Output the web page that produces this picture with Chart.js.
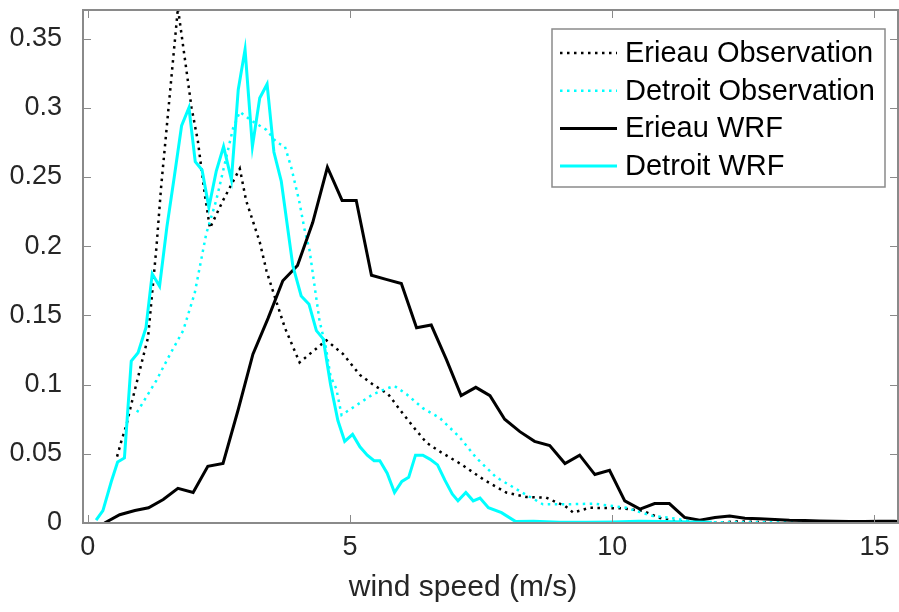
<!DOCTYPE html>
<html>
<head>
<meta charset="utf-8">
<script src="https://cdn.jsdelivr.net/npm/chart.js@4.4.0/dist/chart.umd.min.js"></script>
<style>
  html, body { margin: 0; padding: 0; background: #fff; }
  #wrap { width: 899px; height: 612px; }
</style>
</head>
<body>
<div id="wrap"><canvas id="windChart" width="899" height="612"></canvas></div>
<script>
// Erieau observation (dotted black)
const erieauObsX = [0.56, 0.64, 0.74, 0.80, 0.99, 1.15, 1.31, 1.40, 1.72, 1.98, 2.10, 2.23, 2.33, 2.58, 2.90, 3.02, 3.28, 3.41, 3.57, 3.76, 4.04, 4.23, 4.55, 4.87, 5.19, 5.44, 5.73, 6.01, 6.24, 6.46, 6.74, 7.12, 7.54, 7.98, 8.36, 8.74, 9.10, 9.26, 9.57, 10.20, 10.59, 10.90, 11.16, 12.05, 12.30, 12.60, 13.00];
const erieauObsY = [0.048, 0.059, 0.071, 0.081, 0.110, 0.134, 0.199, 0.243, 0.372, 0.300, 0.276, 0.238, 0.213, 0.233, 0.256, 0.233, 0.203, 0.182, 0.163, 0.141, 0.116, 0.122, 0.132, 0.122, 0.107, 0.100, 0.093, 0.079, 0.068, 0.058, 0.051, 0.0425, 0.0316, 0.022, 0.0188, 0.0183, 0.0123, 0.0075, 0.011, 0.0106, 0.0087, 0.0038, 0.0015, 0.0, 0.001, 0.001, 0.0003];

// Detroit observation (dotted cyan)
const detroitObsX = [0.94, 1.31, 1.46, 1.60, 1.82, 2.04, 2.26, 2.45, 2.77, 2.90, 3.15, 3.41, 3.60, 3.76, 3.88, 4.03, 4.14, 4.23, 4.33, 4.42, 4.54, 4.63, 4.74, 4.84, 5.12, 5.44, 5.69, 5.85, 6.08, 6.39, 6.71, 7.09, 7.41, 7.79, 8.24, 8.68, 9.13, 9.64, 10.27, 10.46, 10.78, 11.10, 11.60, 12.50, 13.50, 14.50, 15.00];
const detroitObsY = [0.080, 0.103, 0.114, 0.124, 0.139, 0.166, 0.209, 0.233, 0.285, 0.297, 0.290, 0.284, 0.275, 0.272, 0.257, 0.233, 0.211, 0.197, 0.170, 0.146, 0.127, 0.106, 0.097, 0.078, 0.085, 0.093, 0.097, 0.099, 0.093, 0.083, 0.076, 0.062, 0.047, 0.033, 0.023, 0.0135, 0.0135, 0.014, 0.011, 0.0087, 0.005, 0.0038, 0.0005, 0.0005, 0.0005, 0.0005, 0.0003];

// Erieau WRF (solid black)
const erieauWrfX = [0.32, 0.61, 0.90, 1.16, 1.44, 1.72, 2.01, 2.29, 2.58, 2.87, 3.15, 3.44, 3.72, 4.00, 4.29, 4.57, 4.85, 5.12, 5.41, 5.69, 5.98, 6.27, 6.55, 6.84, 7.12, 7.40, 7.67, 7.95, 8.24, 8.52, 8.81, 9.10, 9.38, 9.67, 9.95, 10.24, 10.53, 10.81, 11.09, 11.38, 11.67, 11.96, 12.24, 12.53, 12.81, 13.10, 13.38, 13.67, 13.95, 14.24, 14.52, 14.81, 15.09, 15.38, 15.66];
const erieauWrfY = [0.000, 0.006, 0.009, 0.011, 0.017, 0.025, 0.022, 0.041, 0.043, 0.082, 0.122, 0.148, 0.175, 0.186, 0.217, 0.257, 0.233, 0.233, 0.179, 0.176, 0.173, 0.141, 0.143, 0.118, 0.092, 0.098, 0.092, 0.075, 0.066, 0.059, 0.056, 0.043, 0.049, 0.035, 0.038, 0.016, 0.010, 0.014, 0.014, 0.004, 0.002, 0.004, 0.005, 0.0035, 0.003, 0.0025, 0.002, 0.0018, 0.0015, 0.0013, 0.001, 0.001, 0.0012, 0.0012, 0.001];

// Detroit WRF (solid cyan)
const detroitWrfX = [0.16, 0.29, 0.45, 0.57, 0.70, 0.83, 0.96, 1.11, 1.23, 1.37, 1.51, 1.65, 1.79, 1.93, 2.05, 2.18, 2.31, 2.45, 2.59, 2.74, 2.87, 3.00, 3.14, 3.28, 3.42, 3.55, 3.69, 3.91, 4.07, 4.22, 4.36, 4.49, 4.63, 4.77, 4.90, 5.05, 5.19, 5.33, 5.46, 5.57, 5.71, 5.85, 5.99, 6.12, 6.25, 6.39, 6.53, 6.67, 6.81, 6.95, 7.06, 7.21, 7.35, 7.48, 7.64, 7.89, 8.16, 8.50, 9.00, 9.50, 10.00, 10.50, 11.00, 11.50, 11.90];
const detroitWrfY = [0.002, 0.009, 0.030, 0.044, 0.047, 0.117, 0.123, 0.141, 0.180, 0.171, 0.214, 0.250, 0.287, 0.300, 0.261, 0.255, 0.228, 0.254, 0.272, 0.248, 0.313, 0.342, 0.272, 0.307, 0.317, 0.268, 0.247, 0.186, 0.164, 0.158, 0.139, 0.133, 0.100, 0.074, 0.059, 0.064, 0.055, 0.049, 0.045, 0.045, 0.036, 0.022, 0.030, 0.033, 0.049, 0.049, 0.046, 0.042, 0.031, 0.021, 0.016, 0.022, 0.016, 0.018, 0.011, 0.0075, 0.001, 0.0012, 0.0005, 0.0005, 0.0008, 0.0012, 0.001, 0.0008, 0.0005];

const xTicks = [0, 5, 10, 15];
const yTicks = [0, 0.05, 0.1, 0.15, 0.2, 0.25, 0.3, 0.35];
const xLabel = 'wind speed (m/s)';

const FONT = '"Liberation Sans", Helvetica, Arial, sans-serif';
const TEXT_COLOR = '#262626';
const AXIS_GRAY = '#8a8a8a';
const CYAN = '#00ffff';
const DOTS = [2.5, 4.5];

function toPoints(xs, ys) {
    return xs.map((x, i) => ({ x: x, y: ys[i] }));
}

// MATLAB-like box with inward ticks on all four sides
const boxPlugin = {
    id: 'matlabBox',
    afterDatasetsDraw(chart) {
        const { ctx, chartArea: a, scales } = chart;
        const len = 8;
        ctx.save();
        ctx.strokeStyle = AXIS_GRAY;
        ctx.lineWidth = 1;
        scales.x.ticks.forEach(t => {
            const px = Math.round(scales.x.getPixelForValue(t.value)) + 0.5;
            ctx.beginPath();
            ctx.moveTo(px, a.bottom); ctx.lineTo(px, a.bottom - len);
            ctx.moveTo(px, a.top); ctx.lineTo(px, a.top + len);
            ctx.stroke();
        });
        scales.y.ticks.forEach(t => {
            const py = Math.round(scales.y.getPixelForValue(t.value)) + 0.5;
            ctx.beginPath();
            ctx.moveTo(a.left, py); ctx.lineTo(a.left + len, py);
            ctx.moveTo(a.right, py); ctx.lineTo(a.right - len, py);
            ctx.stroke();
        });
        ctx.lineWidth = 2;
        ctx.strokeRect(a.left, a.top, a.right - a.left, a.bottom - a.top);

        // x axis label (sits a bit left of the box centre, as in the original)
        ctx.fillStyle = TEXT_COLOR;
        ctx.font = '30px ' + FONT;
        ctx.textAlign = 'center';
        ctx.textBaseline = 'middle';
        ctx.fillText(xLabel, a.left + 380, a.bottom + 65);
        ctx.restore();
    }
};

// legend box in the upper right corner
const legendPlugin = {
    id: 'boxLegend',
    afterDraw(chart) {
        const { ctx, chartArea: a } = chart;
        const w = 333, h = 158;
        const bx = a.right - 13 - w, by = a.top + 19;
        ctx.save();
        ctx.fillStyle = '#fff';
        ctx.fillRect(bx, by, w, h);
        ctx.strokeStyle = AXIS_GRAY;
        ctx.lineWidth = 1.5;
        ctx.strokeRect(bx, by, w, h);
        ctx.font = '29px ' + FONT;
        ctx.textBaseline = 'middle';
        ctx.textAlign = 'left';
        chart.data.datasets.forEach((ds, i) => {
            const cy = by + 24 + i * 37.7;
            ctx.strokeStyle = ds.borderColor;
            ctx.lineWidth = ds.borderWidth;
            ctx.setLineDash(ds.borderDash || []);
            ctx.beginPath();
            ctx.moveTo(bx + 8, cy);
            ctx.lineTo(bx + 65, cy);
            ctx.stroke();
            ctx.setLineDash([]);
            ctx.fillStyle = '#000';
            ctx.fillText(ds.label, bx + 73, cy + 1);
        });
        ctx.restore();
    }
};

new Chart(document.getElementById('windChart'), {
    type: 'line',
    data: {
        datasets: [
            { label: 'Erieau Observation', data: toPoints(erieauObsX, erieauObsY), borderColor: '#000', borderWidth: 2.5, borderDash: DOTS, order: 4 },
            { label: 'Detroit Observation', data: toPoints(detroitObsX, detroitObsY), borderColor: CYAN, borderWidth: 2.5, borderDash: DOTS, order: 3 },
            { label: 'Erieau WRF', data: toPoints(erieauWrfX, erieauWrfY), borderColor: '#000', borderWidth: 3, order: 2 },
            { label: 'Detroit WRF', data: toPoints(detroitWrfX, detroitWrfY), borderColor: CYAN, borderWidth: 3, order: 1 }
        ]
    },
    options: {
        responsive: false,
        animation: false,
        layout: { padding: { left: 0, right: 1, top: 10, bottom: 0 } },
        elements: {
            point: { radius: 0 },
            line: { tension: 0, fill: false }
        },
        plugins: {
            legend: { display: false },
            tooltip: { enabled: false }
        },
        scales: {
            x: {
                type: 'linear',
                min: -0.09,
                max: 15.45,
                grid: { display: false, drawTicks: false },
                border: { display: false },
                afterBuildTicks: s => { s.ticks = xTicks.map(v => ({ value: v })); },
                afterFit: s => { s.height = 89; s.paddingLeft = 0; s.paddingRight = 0; },
                ticks: {
                    color: TEXT_COLOR,
                    font: { family: FONT, size: 27 },
                    padding: 8,
                    maxRotation: 0,
                    autoSkip: false
                }
            },
            y: {
                type: 'linear',
                min: 0,
                max: 0.3706,
                grid: { display: false, drawTicks: false },
                border: { display: false },
                afterBuildTicks: s => { s.ticks = yTicks.map(v => ({ value: v })); },
                afterFit: s => { s.width = 83; s.paddingTop = 0; s.paddingBottom = 0; },
                ticks: {
                    color: TEXT_COLOR,
                    font: { family: FONT, size: 27 },
                    padding: 21,
                    autoSkip: false,
                    callback: v => String(v)
                }
            }
        }
    },
    plugins: [boxPlugin, legendPlugin]
});
</script>
</body>
</html>
